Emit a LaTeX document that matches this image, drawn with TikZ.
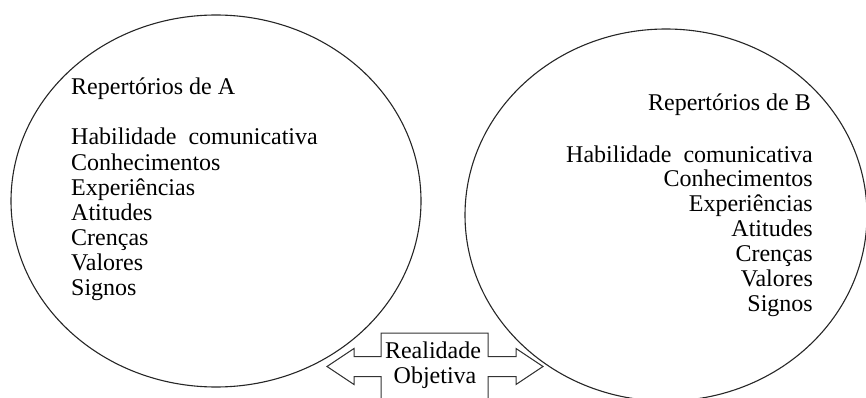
\documentclass[tikz,border=0pt]{standalone}
\usepackage{fontspec}
\setmainfont{Liberation Serif}
\begin{document}
\begin{tikzpicture}[x=1pt,y=-1pt,
  txt/.style={inner sep=0pt,font=\fontsize{24}{25}\selectfont,text=black},
  ring/.style={draw=black!85,line width=1.1pt},
  callout/.style={draw=black!80,line width=1pt}]
\useasboundingbox (0,0) rectangle (866,398);
\clip (0,0) rectangle (866,398);
% circles
\draw[ring] (216,201) ellipse [x radius=205pt, y radius=186pt];
\draw[ring] (666,215) ellipse [x radius=201pt, y radius=186pt];
% left text
\node[txt,anchor=base west] (ta) at (71,95) {Repertórios de A};
\foreach \t [count=\i] in {Habilidade\hspace{12pt}comunicativa,Conhecimentos,Experiências,Atitudes,Crenças,Valores,Signos}
  \node[txt,anchor=base west] (a\i) at (71,{145+25*(\i-1)}) {\t};
% right text
\node[txt,anchor=base east] (tb) at (811,111) {Repertórios de B};
\foreach \t [count=\i] in {Habilidade\hspace{12pt}comunicativa,Conhecimentos,Experiências,Atitudes,Crenças,Valores,Signos}
  \node[txt,anchor=base east] (b\i) at (813,{162+24.9*(\i-1)}) {\t};
% double arrow callout
\draw[callout] (381,400) -- (381,376.5) -- (354,376.5) -- (354,384.5) -- (327,366.5)
  -- (354,348.5) -- (354,356.5) -- (381,356.5) -- (381,333) -- (488,333)
  -- (488,356.5) -- (516,356.5) -- (516,348.5) -- (543,366.5) -- (516,384.5)
  -- (516,376.5) -- (488,376.5) -- (488,400);
\node[txt,anchor=base] (r1) at (433,358) {Realidade};
\node[txt,anchor=base] (r2) at (435,383) {Objetiva};
\end{tikzpicture}
\end{document}
